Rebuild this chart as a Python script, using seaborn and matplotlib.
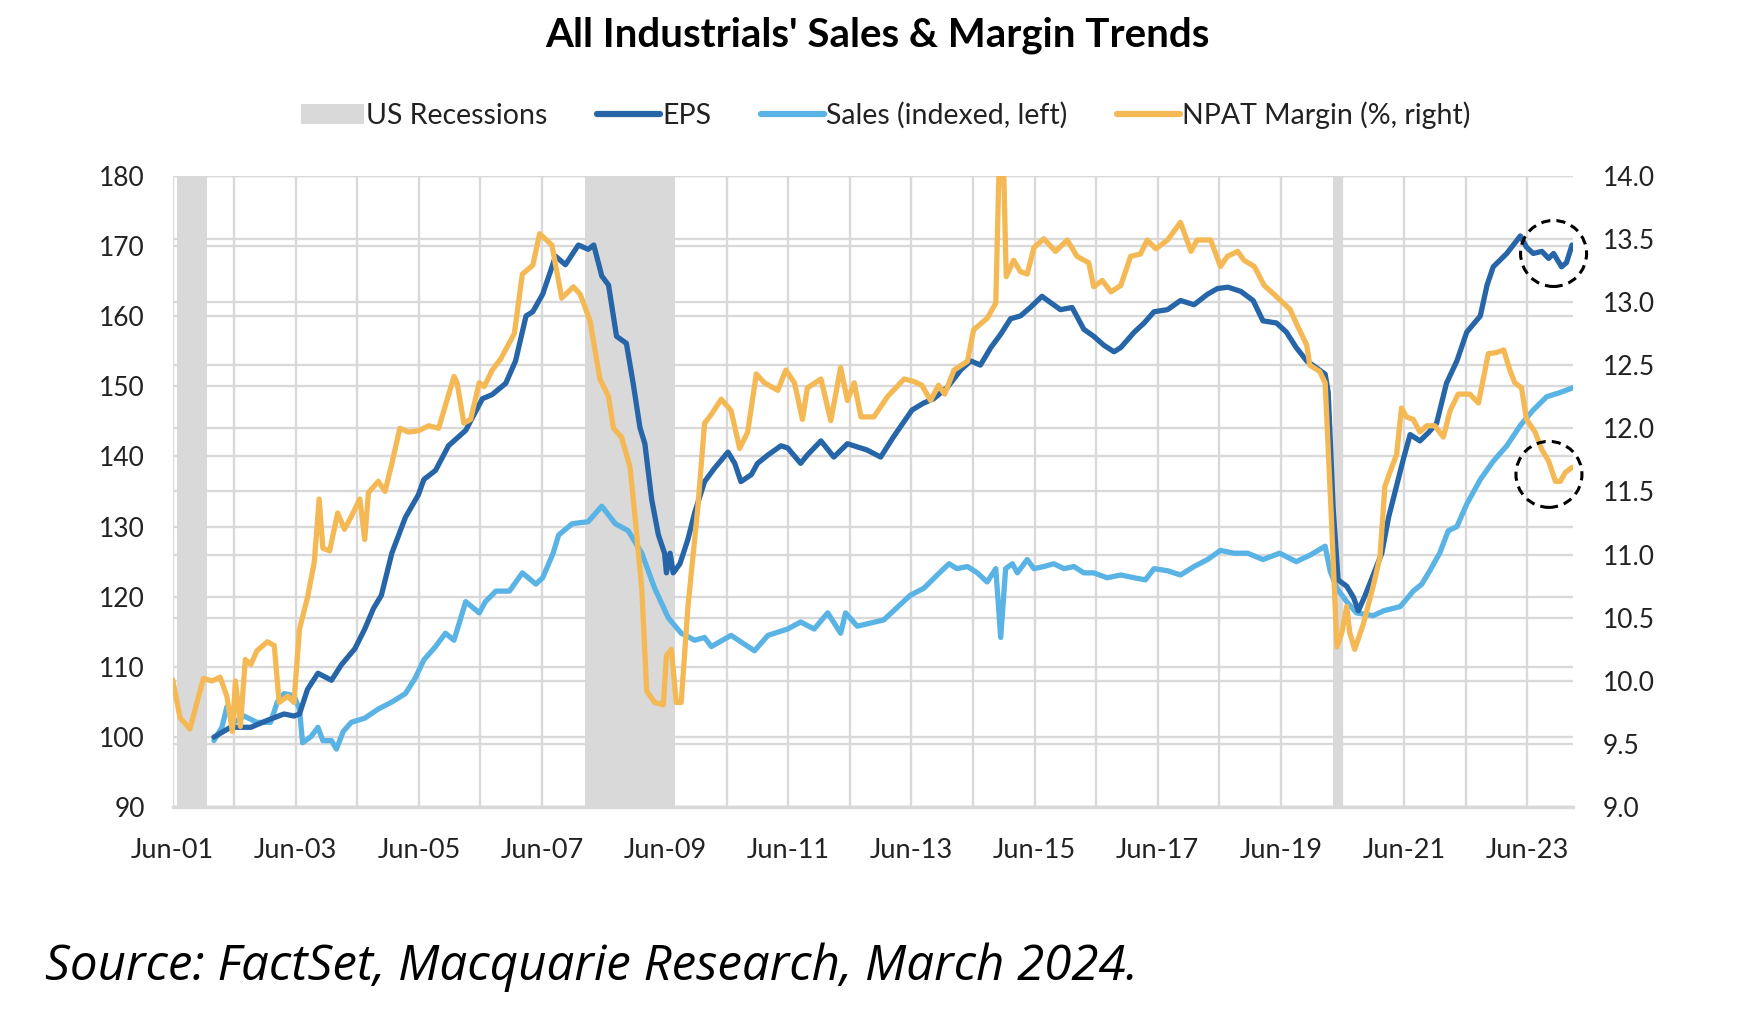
import matplotlib
matplotlib.use("Agg")
import matplotlib.pyplot as plt
import matplotlib.transforms as mtransforms
from matplotlib.patches import Circle, Patch
from matplotlib.lines import Line2D
import numpy as np
import pandas as pd
import seaborn as sns

# Dates are decimal years (Jun-01 = 2001.42)
eps_dates = [2002.09, 2002.36, 2002.69, 2002.96, 2003.23, 2003.39, 2003.48, 2003.61, 2003.78, 2004.00,
             2004.16, 2004.38, 2004.54, 2004.68, 2004.81, 2004.98, 2005.20, 2005.41, 2005.50, 2005.69,
             2005.90, 2006.18, 2006.45, 2006.61, 2006.83, 2006.99, 2007.16, 2007.27, 2007.43, 2007.64,
             2007.80, 2008.01, 2008.17, 2008.26, 2008.39, 2008.50, 2008.63, 2008.79, 2008.90, 2009.01,
             2009.09, 2009.20, 2009.31, 2009.41, 2009.44, 2009.50, 2009.55, 2009.66, 2009.79, 2009.90,
             2010.06, 2010.22, 2010.44, 2010.55, 2010.65, 2010.82, 2010.92, 2011.09, 2011.30, 2011.41,
             2011.62, 2011.73, 2011.95, 2012.16, 2012.38, 2012.70, 2012.92, 2013.13, 2013.35, 2013.43,
             2013.62, 2013.78, 2014.00, 2014.22, 2014.38, 2014.54, 2014.71, 2014.87, 2015.03, 2015.19,
             2015.35, 2015.54, 2015.68, 2015.84, 2016.03, 2016.22, 2016.38, 2016.55, 2016.71, 2016.82,
             2017.04, 2017.20, 2017.36, 2017.58, 2017.79, 2018.01, 2018.23, 2018.39, 2018.56, 2018.77,
             2018.97, 2019.13, 2019.35, 2019.51, 2019.67, 2019.84, 2020.00, 2020.14, 2020.19, 2020.27,
             2020.35, 2020.49, 2020.60, 2020.68, 2020.79, 2020.92, 2021.06, 2021.17, 2021.30, 2021.41,
             2021.52, 2021.68, 2021.82, 2021.95, 2022.11, 2022.28, 2022.44, 2022.66, 2022.77, 2022.87,
             2023.09, 2023.31, 2023.41, 2023.52, 2023.66, 2023.77, 2023.85, 2023.98, 2024.06, 2024.15]
eps_values = [100.0, 101.4, 101.4, 102.4, 103.3, 103.0, 103.3, 106.8, 109.1, 108.1,
              110.3, 112.6, 115.4, 118.3, 120.2, 126.2, 131.3, 134.5, 136.7, 138.0,
              141.5, 143.7, 148.2, 148.8, 150.4, 153.6, 160.0, 160.6, 163.1, 168.5,
              167.3, 170.1, 169.5, 170.1, 165.7, 164.4, 157.1, 156.1, 150.4, 144.1,
              141.8, 133.9, 128.8, 126.2, 123.4, 126.2, 123.4, 124.7, 128.2, 132.0,
              136.4, 138.3, 140.6, 139.0, 136.4, 137.4, 139.0, 140.2, 141.5, 141.2,
              139.0, 140.2, 142.2, 139.9, 141.8, 140.9, 139.9, 142.8, 145.6, 146.6,
              147.6, 148.2, 149.8, 152.3, 153.6, 153.0, 155.5, 157.4, 159.6, 160.0,
              161.2, 162.8, 161.9, 160.9, 161.2, 158.1, 157.1, 155.8, 154.9, 155.5,
              157.7, 159.0, 160.6, 160.9, 162.2, 161.6, 163.1, 163.9, 164.1, 163.5,
              162.2, 159.3, 159.0, 157.7, 155.5, 153.6, 152.6, 151.7, 149.1, 132.6,
              122.4, 121.5, 119.9, 118.0, 120.2, 123.1, 126.2, 131.3, 135.8, 139.6,
              143.1, 142.2, 143.4, 144.7, 150.4, 153.6, 157.7, 160.0, 164.4, 167.0,
              168.9, 171.4, 169.8, 168.9, 169.2, 168.2, 168.9, 167.0, 167.6, 170.1]

sales_dates = [2002.09, 2002.22, 2002.30, 2002.41, 2002.58, 2002.79, 2003.01, 2003.12, 2003.23, 2003.39,
               2003.48, 2003.53, 2003.67, 2003.78, 2003.86, 2004.00, 2004.08, 2004.19, 2004.32, 2004.54,
               2004.76, 2004.98, 2005.20, 2005.36, 2005.50, 2005.69, 2005.85, 2005.99, 2006.18, 2006.40,
               2006.50, 2006.67, 2006.89, 2007.10, 2007.32, 2007.43, 2007.60, 2007.69, 2007.91, 2008.17,
               2008.39, 2008.61, 2008.82, 2009.04, 2009.25, 2009.47, 2009.68, 2009.90, 2010.06, 2010.17,
               2010.49, 2010.87, 2011.09, 2011.41, 2011.62, 2011.84, 2012.06, 2012.27, 2012.35, 2012.54,
               2012.97, 2013.13, 2013.40, 2013.62, 2013.84, 2014.03, 2014.16, 2014.33, 2014.49, 2014.65,
               2014.79, 2014.87, 2014.95, 2015.06, 2015.14, 2015.30, 2015.41, 2015.57, 2015.73, 2015.90,
               2016.06, 2016.22, 2016.38, 2016.60, 2016.82, 2017.04, 2017.22, 2017.36, 2017.58, 2017.79,
               2018.01, 2018.23, 2018.44, 2018.66, 2018.88, 2019.13, 2019.40, 2019.67, 2019.89, 2020.14,
               2020.22, 2020.33, 2020.49, 2020.65, 2020.92, 2021.09, 2021.36, 2021.57, 2021.71, 2021.84,
               2022.00, 2022.14, 2022.28, 2022.44, 2022.66, 2022.87, 2023.09, 2023.31, 2023.52, 2023.74,
               2023.96, 2024.17]
sales_values = [99.5, 101.4, 104.3, 102.1, 103.0, 102.1, 102.1, 105.0, 106.2, 105.9,
                104.0, 99.2, 100.1, 101.4, 99.5, 99.5, 98.3, 100.8, 102.1, 102.7,
                104.0, 105.0, 106.2, 108.4, 111.0, 112.9, 114.8, 113.8, 119.3, 117.7,
                119.3, 120.8, 120.8, 123.4, 121.8, 122.7, 126.2, 128.8, 130.4, 130.7,
                132.9, 130.4, 129.4, 126.2, 121.2, 117.0, 114.8, 113.8, 114.2, 112.9,
                114.5, 112.3, 114.5, 115.4, 116.4, 115.4, 117.7, 114.8, 117.7, 115.8,
                116.7, 118.0, 120.2, 121.2, 123.1, 124.7, 124.0, 124.3, 123.4, 122.1,
                124.0, 114.2, 124.0, 124.7, 123.4, 125.3, 124.0, 124.3, 124.7, 124.0,
                124.3, 123.4, 123.4, 122.7, 123.1, 122.7, 122.4, 124.0, 123.7, 123.1,
                124.3, 125.3, 126.6, 126.2, 126.2, 125.3, 126.2, 125.0, 125.9, 127.2,
                123.7, 121.2, 119.3, 117.7, 117.3, 118.0, 118.6, 120.8, 121.8, 123.7,
                126.2, 129.4, 130.0, 133.2, 136.7, 139.3, 141.5, 144.4, 146.6, 148.5,
                149.1, 149.8]

npat_dates = [2001.42, 2001.54, 2001.70, 2001.92, 2002.06, 2002.19, 2002.30, 2002.39, 2002.44, 2002.52,
              2002.60, 2002.69, 2002.79, 2002.96, 2003.07, 2003.15, 2003.29, 2003.39, 2003.48, 2003.61,
              2003.72, 2003.80, 2003.86, 2003.97, 2004.10, 2004.21, 2004.32, 2004.46, 2004.54, 2004.60,
              2004.76, 2004.87, 2004.98, 2005.11, 2005.25, 2005.41, 2005.58, 2005.74, 2005.85, 2005.99,
              2006.04, 2006.15, 2006.26, 2006.40, 2006.48, 2006.61, 2006.75, 2006.97, 2007.10, 2007.27,
              2007.38, 2007.58, 2007.74, 2007.93, 2008.04, 2008.20, 2008.36, 2008.50, 2008.58, 2008.71,
              2008.85, 2008.93, 2009.04, 2009.12, 2009.25, 2009.39, 2009.44, 2009.52, 2009.60, 2009.68,
              2009.79, 2009.95, 2010.06, 2010.17, 2010.33, 2010.49, 2010.63, 2010.76, 2010.90, 2011.03,
              2011.25, 2011.38, 2011.52, 2011.65, 2011.73, 2011.95, 2012.11, 2012.27, 2012.38, 2012.49,
              2012.60, 2012.81, 2013.03, 2013.30, 2013.46, 2013.59, 2013.73, 2013.86, 2013.96, 2014.11,
              2014.33, 2014.43, 2014.65, 2014.79, 2014.84, 2014.92, 2014.96, 2015.08, 2015.19, 2015.30,
              2015.41, 2015.57, 2015.76, 2015.95, 2016.11, 2016.30, 2016.38, 2016.52, 2016.66, 2016.82,
              2016.98, 2017.14, 2017.25, 2017.39, 2017.58, 2017.79, 2017.96, 2018.06, 2018.28, 2018.44,
              2018.55, 2018.72, 2018.82, 2018.99, 2019.15, 2019.31, 2019.57, 2019.70, 2019.84, 2019.89,
              2020.05, 2020.14, 2020.24, 2020.33, 2020.41, 2020.49, 2020.54, 2020.62, 2020.76, 2020.92,
              2021.03, 2021.11, 2021.22, 2021.30, 2021.38, 2021.46, 2021.57, 2021.68, 2021.79, 2021.92,
              2022.06, 2022.17, 2022.30, 2022.49, 2022.63, 2022.79, 2022.93, 2023.04, 2023.14, 2023.22,
              2023.33, 2023.41, 2023.55, 2023.66, 2023.77, 2023.88, 2023.96, 2024.04, 2024.15]
npat_values = [10.01, 9.71, 9.62, 10.02, 10.0, 10.03, 9.88, 9.6, 10.0, 9.64,
               10.17, 10.13, 10.24, 10.31, 10.28, 9.83, 9.88, 9.83, 10.41, 10.66,
               10.94, 11.44, 11.05, 11.03, 11.33, 11.2, 11.3, 11.44, 11.12, 11.49,
               11.58, 11.5, 11.72, 12.0, 11.97, 11.98, 12.02, 12.0, 12.18, 12.41,
               12.36, 12.04, 12.07, 12.36, 12.33, 12.46, 12.55, 12.75, 13.22, 13.29,
               13.54, 13.45, 13.03, 13.12, 13.06, 12.85, 12.39, 12.25, 12.0, 11.93,
               11.69, 11.3, 10.73, 9.92, 9.83, 9.81, 10.2, 10.25, 9.83, 9.83,
               10.59, 11.37, 12.04, 12.11, 12.23, 12.14, 11.84, 11.97, 12.43, 12.36,
               12.3, 12.46, 12.36, 12.07, 12.32, 12.39, 12.06, 12.48, 12.22, 12.36,
               12.09, 12.09, 12.25, 12.39, 12.37, 12.34, 12.22, 12.34, 12.27, 12.46,
               12.53, 12.78, 12.87, 12.99, 14.0, 14.0, 13.2, 13.33, 13.24, 13.22,
               13.43, 13.5, 13.4, 13.49, 13.36, 13.31, 13.12, 13.17, 13.08, 13.13,
               13.36, 13.38, 13.49, 13.42, 13.49, 13.63, 13.4, 13.49, 13.49, 13.28,
               13.36, 13.4, 13.33, 13.28, 13.13, 13.06, 12.94, 12.8, 12.66, 12.5,
               12.45, 12.36, 11.3, 10.27, 10.38, 10.59, 10.38, 10.25, 10.45, 10.75,
               10.98, 11.54, 11.69, 11.79, 12.16, 12.09, 12.07, 11.97, 12.02, 12.02,
               11.93, 12.14, 12.27, 12.27, 12.2, 12.59, 12.6, 12.62, 12.46, 12.36,
               12.32, 12.07, 11.97, 11.83, 11.74, 11.58, 11.58, 11.65, 11.69]

recession_starts = [2001.49, 2008.12, 2020.27]
recession_ends = [2001.97, 2009.58, 2020.40]

x_start = 2001.42   # Jun-01
x_end = 2024.17
tick_years = list(range(2001, 2024, 2))
left_ticks = list(range(90, 181, 10))
right_ticks = [9.0, 9.5, 10.0, 10.5, 11.0, 11.5, 12.0, 12.5, 13.0, 13.5, 14.0]

assert len(eps_dates) == len(eps_values)
assert len(sales_dates) == len(sales_values)
assert len(npat_dates) == len(npat_values)

eps_df = pd.DataFrame({"date": eps_dates, "value": eps_values})
sales_df = pd.DataFrame({"date": sales_dates, "value": sales_values})
npat_df = pd.DataFrame({"date": npat_dates, "value": npat_values})

C_EPS = "#2665A7"
C_SALES = "#59B3E4"
C_NPAT = "#F4B955"
C_GRID = "#D9D9D9"
C_TEXT = "#222222"
LW = 3.8

sns.set_theme(style="white")
plt.rcParams["font.family"] = ["Lato", "DejaVu Sans"]

fig = plt.figure(figsize=(17.44, 10.16), dpi=100)
ax = fig.add_axes([0.099, 0.2054, 0.8031, 0.6218])
ax2 = ax.twinx()

# recession bands
for s, e in zip(recession_starts, recession_ends):
    ax.axvspan(s, e, color=C_GRID, lw=0, zorder=1)

sns.lineplot(data=eps_df, x="date", y="value", ax=ax, color=C_EPS, linewidth=LW, zorder=3)
sns.lineplot(data=sales_df, x="date", y="value", ax=ax, color=C_SALES, linewidth=LW, zorder=2)
sns.lineplot(data=npat_df, x="date", y="value", ax=ax2, color=C_NPAT, linewidth=LW, zorder=2)

ax.set_xlim(x_start, x_end)
ax.set_ylim(90, 180)
ax2.set_ylim(9, 14)

ax.set_xticks([y + 0.42 for y in tick_years])
ax.set_xticklabels([f"Jun-{y % 100:02d}" for y in tick_years])
ax.set_xticks([y + 0.42 for y in range(2002, 2024, 2)], minor=True)
ax.set_yticks(left_ticks)
ax2.set_yticks(right_ticks)
ax2.set_yticklabels([f"{v:.1f}" for v in right_ticks])

# grid: vertical every June, horizontal for both axes, all under the lines
ax.set_axisbelow(True)
ax.grid(True, which="both", axis="x", color=C_GRID, lw=1.7)
ax.grid(True, which="major", axis="y", color=C_GRID, lw=1.7)
ax2.grid(False)
for v in right_ticks:
    ax.axhline(90 + (v - 9) / 5 * 90, color=C_GRID, lw=1.7, zorder=0.5)

for a in (ax, ax2):
    for sp in a.spines.values():
        sp.set_visible(False)
    a.set_xlabel("")
    a.set_ylabel("")
ax.spines["bottom"].set_visible(True)
ax.spines["bottom"].set_color(C_GRID)
ax.spines["bottom"].set_linewidth(2.4)

ax.tick_params(axis="x", which="major", length=6, width=1.5, color="#C8C8C8",
               pad=16, labelsize=19.5, labelcolor=C_TEXT)
ax.tick_params(axis="x", which="minor", length=0)
ax.tick_params(axis="y", length=0, pad=20, labelsize=19, labelcolor=C_TEXT)
ax2.tick_params(axis="y", length=0, pad=21, labelsize=19, labelcolor=C_TEXT)


def dashed_circle(axis, df, low=False):
    # circle round the latest readings (from mid-2023 on)
    tail = df[df["date"] >= 2023.5]
    xc = tail["date"].median()
    yc = tail["value"].median()
    if low:
        xc = (xc + tail["date"].min()) / 2 + 0.06
        yc = (yc + tail["value"].min()) / 2
    trans = fig.dpi_scale_trans + mtransforms.ScaledTranslation(xc, yc, axis.transData)
    circ = Circle((0, 0), radius=0.33, transform=trans, fill=False, ec="black",
                  lw=2.2, ls=(0, (3, 2)), clip_on=False, zorder=5)
    fig.add_artist(circ)


dashed_circle(ax, eps_df)
dashed_circle(ax2, npat_df, low=True)

handles = [Patch(facecolor=C_GRID, edgecolor="none"),
           Line2D([], [], color=C_EPS, lw=4.5),
           Line2D([], [], color=C_SALES, lw=4.5),
           Line2D([], [], color=C_NPAT, lw=4.5)]
labels = ["US Recessions", "EPS", "Sales (indexed, left)", "NPAT Margin (%, right)"]
fig.legend(handles, labels, loc="center", bbox_to_anchor=(0.508, 0.887), ncol=4,
           frameon=False, fontsize=20.5, handlelength=2.2, handletextpad=0.08,
           columnspacing=1.75, labelcolor=C_TEXT)

fig.text(0.503, 0.9656, "All Industrials' Sales & Margin Trends", ha="center", va="center",
         fontsize=29, fontweight="bold", color="black")
fig.text(0.026, 0.048, "Source: FactSet, Macquarie Research, March 2024.", ha="left",
         va="center", fontsize=35.5, style="italic", family=["Open Sans", "DejaVu Sans"],
         color="black")

fig.savefig("out.png", dpi=100)
